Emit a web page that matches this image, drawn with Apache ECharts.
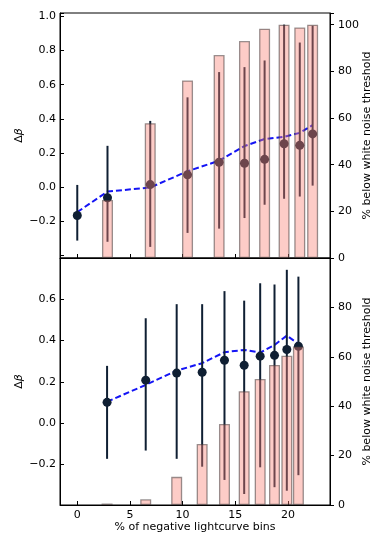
<!DOCTYPE html>
<html>
<head>
<meta charset="utf-8">
<script src="https://cdn.jsdelivr.net/npm/echarts@6/dist/echarts.min.js"></script>
<style>
html, body { margin: 0; padding: 0; background: #fff; }
#chart { width: 390px; height: 547px; }
</style>
</head>
<body>
<div id="chart"></div>
<script>
// top panel
const topX = [0, 2.87, 6.93, 10.47, 13.47, 15.88, 17.79, 19.64, 21.13, 22.35];
const topDelta = [-0.166, -0.062, 0.015, 0.072, 0.146, 0.140, 0.163, 0.254, 0.245, 0.312];
const topLo = [-0.313, -0.32, -0.35, -0.268, -0.243, -0.181, -0.103, -0.068, -0.055, 0.009];
const topHi = [0.013, 0.242, 0.388, 0.526, 0.674, 0.703, 0.742, 0.952, 0.847, 0.945];
const topPct = [0, 24.9, 57.8, 76.1, 87.0, 93.0, 98.3, 100, 98.8, 100];
const topLine = [-0.146, -0.026, -0.002, 0.093, 0.155, 0.241, 0.282, 0.295, 0.318, 0.363];

// bottom panel
const botX = [2.83, 6.5, 9.44, 11.86, 13.98, 15.85, 17.37, 18.73, 19.9, 21.0];
const botDelta = [0.101, 0.208, 0.242, 0.246, 0.304, 0.280, 0.324, 0.328, 0.356, 0.372];
const botLo = [-0.172, -0.132, -0.172, -0.21, -0.274, -0.342, -0.213, -0.309, -0.326, -0.251];
const botHi = [0.277, 0.507, 0.575, 0.575, 0.638, 0.592, 0.676, 0.670, 0.741, 0.708];
const botPct = [0.6, 2.3, 11.4, 24.7, 32.8, 46.1, 51.0, 56.7, 60.4, 64.2];
const botLine = [0.104, 0.185, 0.254, 0.29, 0.343, 0.354, 0.341, 0.378, 0.423, 0.383];

// tick labels
const xTicks = [0, 5, 10, 15, 20];
const topDeltaTicks = [-0.2, 0, 0.2, 0.4, 0.6, 0.8, 1.0];
const botDeltaTicks = [-0.2, 0, 0.2, 0.4, 0.6];
const topPctTicks = [0, 20, 40, 60, 80, 100];
const botPctTicks = [0, 20, 40, 60, 80];

const font = 'DejaVu Sans';
const fs = 11;
const dark = '#0f1f33';

const pick = (list, digits) => v => {
    const hit = list.find(t => Math.abs(t - v) < 1e-6);
    if (hit === undefined) return '';
    return hit.toFixed(digits).replace('-', '\u2212');
};

const zip = (...arrs) => arrs[0].map((_, i) => arrs.map(a => a[i]));

const errRender = (params, api) => {
    const p1 = api.coord([api.value(0), api.value(1)]);
    const p2 = api.coord([api.value(0), api.value(2)]);
    return {
        type: 'line',
        shape: { x1: p1[0], y1: p1[1], x2: p2[0], y2: p2[1] },
        style: { stroke: dark, lineWidth: 2 }
    };
};

const xAxisBase = (gridIndex, showLabels) => ({
    gridIndex: gridIndex,
    type: 'value',
    min: -1.64,
    max: 24,
    splitLine: { show: false },
    axisLine: { show: true, onZero: false, lineStyle: { color: '#000', width: 1 } },
    axisTick: { show: true, inside: true, length: 4, lineStyle: { color: '#000' } },
    axisLabel: {
        show: showLabels, margin: 5, fontFamily: font, fontSize: fs, color: '#000',
        formatter: v => xTicks.includes(v) ? String(v) : ''
    },
    name: showLabels ? '% of negative lightcurve bins' : '',
    nameLocation: 'middle',
    nameGap: 17,
    nameMoveOverlap: false,
    nameTextStyle: { fontFamily: font, fontSize: fs, color: '#000' }
});

const leftAxis = (gridIndex, min, max, ticks) => ({
    gridIndex: gridIndex,
    type: 'value',
    position: 'left',
    min: min,
    max: max,
    splitNumber: gridIndex === 0 ? 7 : 5,
    splitLine: { show: false },
    axisLine: { show: true, onZero: false, lineStyle: { color: '#000', width: 1 } },
    axisTick: { show: true, inside: true, length: 4, lineStyle: { color: '#000' } },
    axisLabel: { margin: 4, fontFamily: font, fontSize: fs, color: '#000', formatter: pick(ticks, 1) },
    name: '{a|\u0394}{b|\u03b2}',
    nameLocation: 'middle',
    nameRotate: 90,
    nameGap: 35,
    nameMoveOverlap: false,
    nameTextStyle: {
        rich: {
            a: { fontFamily: font, fontSize: fs, color: '#000' },
            b: { fontFamily: font, fontSize: fs, color: '#000', fontStyle: 'italic' }
        }
    }
});

const rightAxis = (gridIndex, max, ticks) => ({
    gridIndex: gridIndex,
    type: 'value',
    position: 'right',
    min: 0,
    max: max,
    splitLine: { show: false },
    axisLine: { show: true, onZero: false, lineStyle: { color: '#000', width: 1 } },
    axisTick: { show: true, inside: false, length: 4, lineStyle: { color: '#000' } },
    axisLabel: { margin: 8, fontFamily: font, fontSize: fs, color: '#000', formatter: pick(ticks, 0) },
    name: '% below white noise threshold',
    nameLocation: 'middle',
    nameRotate: 90,
    nameGap: 32,
    nameMoveOverlap: false,
    nameTextStyle: { fontFamily: font, fontSize: fs, color: '#000' }
});

const panelSeries = (idx, xs, delta, lo, hi, pct, line) => [
    {
        type: 'line',
        xAxisIndex: idx, yAxisIndex: idx * 2,
        data: zip(xs, line),
        symbol: 'none',
        lineStyle: { color: '#1414f5', width: 2, type: [6, 3] },
        z: 2
    },
    {
        type: 'custom',
        xAxisIndex: idx, yAxisIndex: idx * 2,
        data: zip(xs, lo, hi),
        encode: { x: 0, y: [1, 2] },
        renderItem: errRender,
        z: 3
    },
    {
        type: 'scatter',
        xAxisIndex: idx, yAxisIndex: idx * 2,
        data: zip(xs, delta),
        symbolSize: 9,
        itemStyle: { color: dark, opacity: 1 },
        z: 4
    },
    {
        type: 'bar',
        xAxisIndex: idx, yAxisIndex: idx * 2 + 1,
        data: zip(xs, pct).filter(d => d[1] > 0),
        barWidth: 11,
        itemStyle: {
            color: 'rgba(250,128,114,0.4)',
            borderColor: 'rgba(70,60,60,0.55)',
            borderWidth: 1.3
        },
        z: 5
    }
];

const chart = echarts.init(document.getElementById('chart'));
chart.setOption({
    animation: false,
    backgroundColor: '#fff',
    grid: [
        { left: 60, right: 60, top: 13, height: 245, show: true, borderColor: '#000', borderWidth: 1 },
        { left: 60, right: 60, top: 258, height: 247, show: true, borderColor: '#000', borderWidth: 1 }
    ],
    xAxis: [xAxisBase(0, false), xAxisBase(1, true)],
    yAxis: [
        leftAxis(0, -0.415, 1.02, topDeltaTicks),
        rightAxis(0, 105, topPctTicks),
        leftAxis(1, -0.395, 0.798, botDeltaTicks),
        rightAxis(1, 100, botPctTicks)
    ],
    series: [
        ...panelSeries(0, topX, topDelta, topLo, topHi, topPct, topLine),
        ...panelSeries(1, botX, botDelta, botLo, botHi, botPct, botLine)
    ]
});
</script>
</body>
</html>
